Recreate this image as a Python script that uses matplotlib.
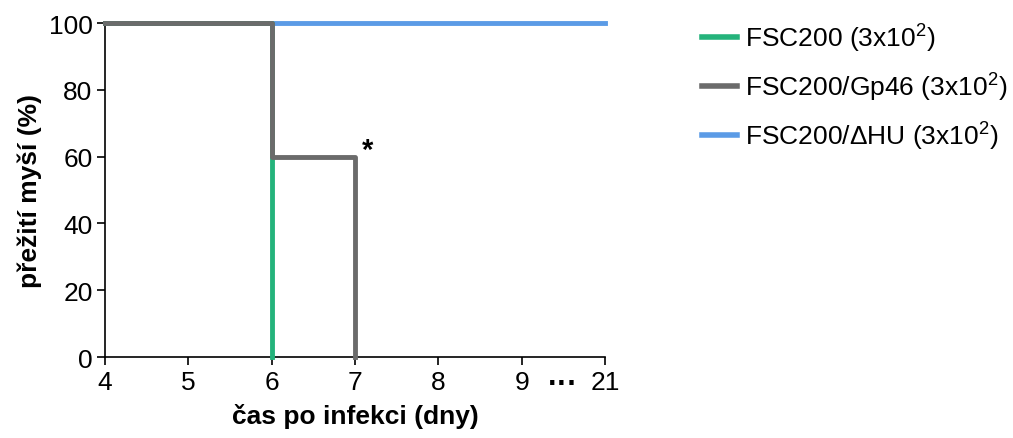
import numpy as np
import matplotlib
matplotlib.use("Agg")
import matplotlib.pyplot as plt

plt.rcParams['font.family'] = ['Liberation Sans', 'DejaVu Sans']
plt.rcParams['mathtext.fontset'] = 'custom'
plt.rcParams['mathtext.rm'] = 'Liberation Sans'
plt.rcParams['mathtext.it'] = 'Liberation Sans'

# Données (jours après infection, survie en %)
tick_days = [4, 5, 6, 7, 8, 9, 21]
tick_labels = ['4', '5', '6', '7', '8', '9', '21']

fsc200_t = [4, 6, 6]
fsc200_s = [100, 100, 0]
gp46_t = [4, 6, 6, 7, 7]
gp46_s = [100, 100, 60, 60, 0]
dhu_t = [4, 21]
dhu_s = [100, 100]

labels = [r'FSC200 (3x10$^{2}$)', r'FSC200/Gp46 (3x10$^{2}$)', r'FSC200/ΔHU (3x10$^{2}$)']
colors = ['#24b37b', '#6b6b6b', '#5b9be6']

# axe x coupé : 9 ... 21
tick_pos = np.arange(len(tick_days)) + 4


def pos(t):
    return np.interp(t, tick_days, tick_pos)


fig = plt.figure(figsize=(10.13, 4.39), dpi=100)
ax = fig.add_axes([0.1037, 0.1845, 0.4936, 0.7605])

ax.plot(pos(dhu_t), dhu_s, color=colors[2], lw=3.5, clip_on=False, label=labels[2], zorder=3)
ax.plot(pos(fsc200_t), fsc200_s, color=colors[0], lw=3.5, clip_on=False, label=labels[0], zorder=4)
ax.plot(pos(gp46_t), gp46_s, color=colors[1], lw=3.5, clip_on=False, label=labels[1], zorder=5)

ax.set_xlim(4, 10)
ax.set_ylim(0, 100)
ax.set_xticks(tick_pos)
ax.set_xticklabels(tick_labels)
ax.set_yticks([0, 20, 40, 60, 80, 100])
ax.tick_params(labelsize=19, width=1.2, length=6, direction='out', colors='black', pad=3)
for s in ['top', 'right']:
    ax.spines[s].set_visible(False)
for s in ['left', 'bottom']:
    ax.spines[s].set_linewidth(1.2)

ax.set_xlabel('čas po infekci (dny)', fontsize=19, fontweight='bold', labelpad=7)
ax.set_ylabel('přežití myší (%)', fontsize=19, fontweight='bold', labelpad=5)

# astérisque et points de suspension
ax.text(7.08, 62, '*', fontsize=21, fontweight='bold', ha='left', va='center')
ax.text(9.5, -0.08, '···', transform=ax.get_xaxis_transform(), fontsize=22,
        fontweight='bold', ha='center', va='center')

h, l = ax.get_legend_handles_labels()
order = [1, 2, 0]
leg = fig.legend([h[i] for i in order], [l[i] for i in order], loc='upper left',
                 bbox_to_anchor=(0.683, 0.973), frameon=False, fontsize=19,
                 handlelength=1.3, handletextpad=0.3, labelspacing=0.64,
                 borderaxespad=0)
for line in leg.get_lines():
    line.set_linewidth(4)

plt.savefig('out.png', dpi=100)
plt.close()
